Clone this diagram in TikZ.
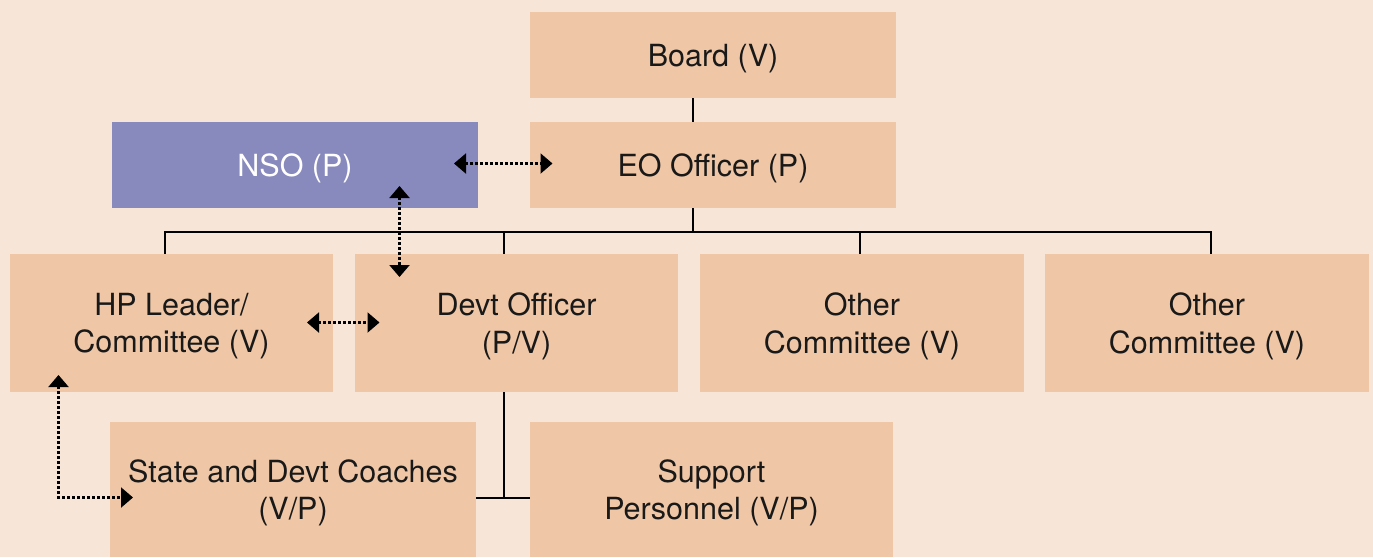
\documentclass[tikz,border=0pt]{standalone}
\usepackage{fontspec}
\setmainfont{TeX Gyre Heros}
\usetikzlibrary{arrows.meta}
\definecolor{bgc}{RGB}{247,230,215}
\definecolor{boxc}{RGB}{239,199,166}
\definecolor{nsoc}{RGB}{136,137,188}
\definecolor{txtc}{RGB}{25,25,25}
\tikzset{
  orgbox/.style={rectangle, fill=boxc, draw=none, inner sep=0pt, align=center,
    text=txtc, text depth=0pt, font=\fontsize{30.5}{37.5}\selectfont},
  conn/.style={line width=2.8pt, draw=black},
  darr/.style={line width=2.1pt, dash pattern=on 2.1pt off 2.9pt,
    {Triangle[length=12pt,width=20pt]}-{Triangle[length=12pt,width=20pt]}},
}
\begin{document}
\begin{tikzpicture}[x=1pt,y=-1pt]
\useasboundingbox (0,0) rectangle (1373,557);
\fill[bgc] (0,0) rectangle (1373,557);
% boxes
\node[orgbox, minimum width=366pt, minimum height=86pt] (board) at (713,55) {Board (V)};
\node[orgbox, minimum width=366pt, minimum height=86pt] (eo) at (713,165) {EO Officer (P)};
\node[orgbox, fill=nsoc, text=white, minimum width=366pt, minimum height=86pt] (nso) at (295,165) {NSO (P)};
\node[orgbox, minimum width=323pt, minimum height=138pt] (hp) at (171.5,323) {HP Leader/\\Committee (V)};
\node[orgbox, minimum width=323pt, minimum height=138pt] (devt) at (516.5,323) {Devt Officer\\(P/V)};
\node[orgbox, minimum width=324pt, minimum height=138pt] (oc1) at (862,323) {Other\\Committee (V)};
\node[orgbox, minimum width=324pt, minimum height=138pt] (oc2) at (1207,323) {Other\\Committee (V)};
\node[orgbox, minimum width=366pt, minimum height=135pt] (state) at (293,489.5) {State and Devt Coaches\\(V/P)};
\node[orgbox, minimum width=363pt, minimum height=135pt] (support) at (711.5,489.5) {Support\\Personnel (V/P)};
% junction coordinates
\coordinate (eoX) at (693,232);
\coordinate (bL) at (165,232);
\coordinate (bD) at (504,232);
\coordinate (bO) at (860,232);
\coordinate (bR) at (1211,232);
\coordinate (sj) at (504,498);
% solid connectors
\draw[conn] (board.south -| eoX) -- (eo.north -| eoX);
\draw[conn] (eo.south -| eoX) -- (eoX);
\draw[conn] (hp.north -| bL) -- (bL) -- (bR) -- (oc2.north -| bR);
\draw[conn] (bD) -- (devt.north -| bD);
\draw[conn] (bO) -- (oc1.north -| bO);
\draw[conn] (devt.south -| sj) -- (sj);
\draw[conn] (state.east |- sj) -- (support.west |- sj);
% dotted arrow ends
\coordinate (a1) at (454,163.5);
\coordinate (a2) at (552.5,163.5);
\coordinate (b1) at (399.5,186);
\coordinate (b2) at (399.5,277);
\coordinate (c1) at (307,322.5);
\coordinate (c2) at (379.5,322.5);
\coordinate (d1) at (58.5,375);
\coordinate (dc) at (58.5,497.5);
\coordinate (d2) at (133,497.5);
\draw[darr] (a1) -- (a2);
\draw[darr] (b1) -- (b2);
\draw[darr] (c1) -- (c2);
\draw[darr] (d1) -- (dc) -- (d2);
\end{tikzpicture}
\end{document}
